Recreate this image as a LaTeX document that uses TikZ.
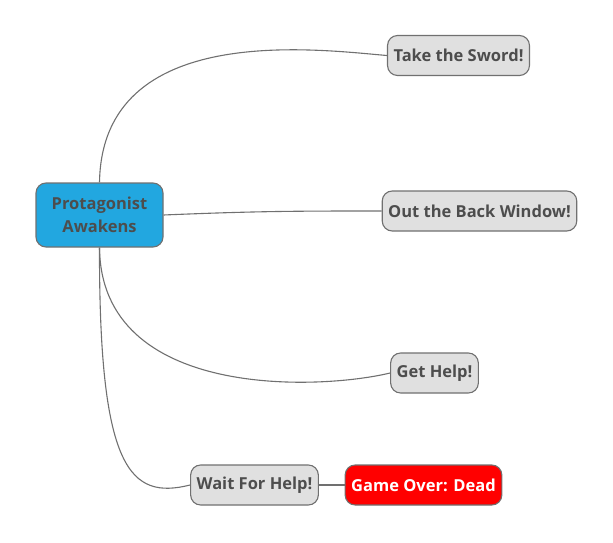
\documentclass[tikz,border=0pt]{standalone}
\usepackage{fontspec}
\setmainfont{Open Sans}
\usetikzlibrary{positioning}

\definecolor{rootblue}{HTML}{22A7E0}
\definecolor{boxgray}{HTML}{E0E0E0}
\definecolor{edgegray}{HTML}{707070}
\definecolor{textgray}{HTML}{4D4D4D}
\definecolor{deadred}{HTML}{FF0000}

\begin{document}
\begin{tikzpicture}[
    x=1pt, y=-1pt,
    topic/.style={draw=edgegray, line width=1.1pt, rounded corners=10pt, fill=boxgray, minimum height=40pt, inner xsep=6pt, align=center, font=\fontsize{16.5}{23}\selectfont\bfseries, text=textgray},
    root/.style={topic, fill=rootblue, minimum width=127pt, minimum height=64pt},
    dead/.style={topic, fill=deadred, text=white},
    link/.style={draw=edgegray, line width=1.1pt}
]
    \useasboundingbox (0,0) rectangle (613,543);

    \node[root] (wake) at (99.5, 215) {Protagonist\\Awakens};
    \node[topic] (sword) at (458.5, 55.5) {Take the Sword!};
    \node[topic] (window) at (479.5, 211) {Out the Back Window!};
    \node[topic] (help) at (434.5, 373) {Get Help!};
    \node[topic] (wait) at (254.5, 485) {Wait For Help!};
    \node[dead] (over) at (423.5, 485) {Game Over: Dead};

    % branches out of the root
    \draw[link] (wake.north) .. controls (102, 20) and (320, 50) .. (sword.west);
    \draw[link] (wake.east) .. controls (260, 211) and (300, 211) .. (window.west);
    \draw[link] (wake.south) .. controls (101, 400) and (320, 390) .. (help.west);
    \draw[link] (wake.south) .. controls (99, 470) and (130, 500) .. (wait.west);
    \draw[link] (wait) -- (over);
\end{tikzpicture}
\end{document}
